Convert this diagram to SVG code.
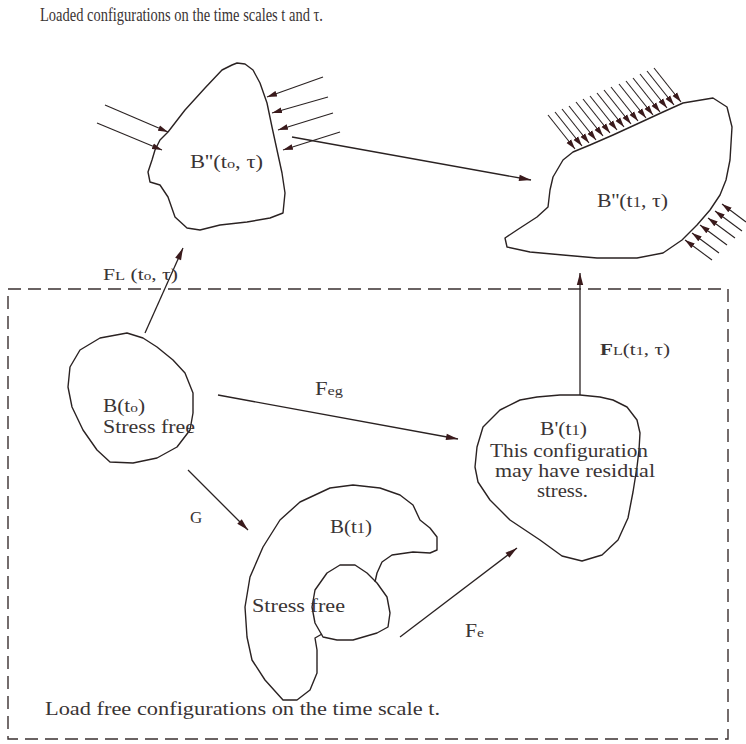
<svg xmlns="http://www.w3.org/2000/svg" width="746" height="744" viewBox="0 0 746 744">
<style>
text{fill:#3a3434;}
.body{fill:none;stroke:#2a2222;stroke-width:1.4;stroke-linejoin:round;}
.con{fill:none;stroke:#2a2222;stroke-width:1.3;marker-end:url(#ah);}
.load{fill:none;stroke:#2a2222;stroke-width:1.1;marker-end:url(#ahs);}
.frame{fill:none;stroke:#3a3030;stroke-width:1.4;stroke-dasharray:13 7;}
</style>
<defs>
<marker id="ah" viewBox="0 0 12 8" markerUnits="userSpaceOnUse" markerWidth="13" markerHeight="8" refX="12" refY="4" orient="auto">
<path d="M0,0.8 L12,4 L0,7.2 Z" fill="#3a1a1c"/>
</marker>
<marker id="ahs" viewBox="0 0 12 8" markerUnits="userSpaceOnUse" markerWidth="10" markerHeight="7" refX="12" refY="4" orient="auto">
<path d="M0,0.5 L12,4 L0,7.5 Z" fill="#3a1a1c"/>
</marker>
</defs>
<rect width="746" height="744" fill="#ffffff"/>
<g font-family="'Liberation Serif', 'DejaVu Serif', serif">

<text id="title" x="40" y="21" font-size="18" textLength="283" lengthAdjust="spacingAndGlyphs">Loaded configurations on the time scales t and τ.</text>

<g id="frame">
<rect class="frame" x="8" y="289" width="720" height="450"/>
<text x="45" y="715" font-size="19" textLength="395" lengthAdjust="spacingAndGlyphs">Load free configurations on the time scale t.</text>
</g>

<g id="node-B2-t0">
<path class="body" d="M237,63 L245,64 L253,70 L260,83 L267,103 L272,127 L277,150 L282,173 L285,193 L283,213 L270,218 L247,222 L220,225 L200,230 L187,228 L175,217 L168,197 L160,185 L150,182 L148,172 L152,160 L155,150 L160,140 L168,132 L185,110 L205,88 L222,70 L232,65 Z"/>
<g id="loads-t0">
<line class="load" x1="105" y1="105" x2="168" y2="132"/>
<line class="load" x1="97" y1="123" x2="162" y2="150"/>
<line class="load" x1="323" y1="77" x2="267" y2="97"/>
<line class="load" x1="328" y1="97" x2="272" y2="113"/>
<line class="load" x1="333" y1="113" x2="278" y2="130"/>
<line class="load" x1="340" y1="132" x2="283" y2="150"/>
</g>
<text x="190" y="168" font-size="18" textLength="73" lengthAdjust="spacingAndGlyphs">B''(t<tspan font-size="13">o</tspan>, τ)</text>
</g>

<g id="node-B2-t1">
<path class="body" d="M683,103 L713,98 L727,107 L732,127 L730,160 L726,180 L720,195 L710,210 L697,225 L682,240 L663,253 L637,258 L597,258 L563,255 L530,252 L507,247 L505,238 L517,230 L537,217 L548,207 L550,190 L553,177 L563,160 L573,152 L590,145 L613,135 L637,124 L663,112 Z"/>
<g id="loads-t1">
<line class="load" x1="548" y1="115" x2="575" y2="149"/>
<line class="load" x1="555" y1="112" x2="582" y2="146"/>
<line class="load" x1="562" y1="109" x2="589" y2="143"/>
<line class="load" x1="569" y1="106" x2="596" y2="140"/>
<line class="load" x1="576" y1="102" x2="603" y2="136"/>
<line class="load" x1="583" y1="99" x2="610" y2="133"/>
<line class="load" x1="590" y1="96" x2="617" y2="130"/>
<line class="load" x1="597" y1="93" x2="624" y2="127"/>
<line class="load" x1="604" y1="90" x2="631" y2="124"/>
<line class="load" x1="611" y1="87" x2="638" y2="121"/>
<line class="load" x1="619" y1="84" x2="646" y2="118"/>
<line class="load" x1="626" y1="81" x2="653" y2="115"/>
<line class="load" x1="633" y1="78" x2="660" y2="112"/>
<line class="load" x1="640" y1="74" x2="667" y2="108"/>
<line class="load" x1="647" y1="71" x2="674" y2="105"/>
<line class="load" x1="654" y1="68" x2="681" y2="102"/>
<line class="load" x1="712" y1="260" x2="685" y2="240"/>
<line class="load" x1="719" y1="253" x2="692" y2="233"/>
<line class="load" x1="727" y1="245" x2="700" y2="225"/>
<line class="load" x1="735" y1="238" x2="708" y2="218"/>
<line class="load" x1="742" y1="231" x2="715" y2="211"/>
<line class="load" x1="746" y1="222" x2="722" y2="204"/>
</g>
<text x="597" y="207" font-size="18" textLength="71" lengthAdjust="spacingAndGlyphs">B''(t<tspan font-size="14">1</tspan>, τ)</text>
</g>

<g id="node-B-t0">
<path class="body" d="M127,333 L100,338 L80,350 L70,367 L68,387 L72,407 L83,430 L97,450 L110,462 L133,463 L157,458 L177,447 L190,430 L193,413 L193,393 L185,373 L173,360 L157,347 L143,338 Z"/>
<text x="103" y="412" font-size="18" textLength="42" lengthAdjust="spacingAndGlyphs">B(t<tspan font-size="13">o</tspan>)</text>
<text x="103" y="433" font-size="18" textLength="92" lengthAdjust="spacingAndGlyphs">Stress free</text>
</g>

<g id="node-B-t1">
<path class="body" d="M375,582 L377,573 L382,562 L392,555 L413,552 L430,553 L437,550 L437,537 L430,528 L420,520 L413,505 L400,495 L380,488 L353,485 L330,488 L300,502 L280,520 L263,547 L250,577 L245,607 L247,637 L252,660 L265,680 L283,700 L297,700 L310,690 L317,673 L317,650 L315,638 L322,634"/>
<path class="body" d="M315,590 L327,573 L340,565 L355,565 L367,573 L377,583 L387,597 L390,613 L388,627 L377,633 L353,640 L337,640 L323,637 L315,623 L312,607 Z"/>
<text x="330" y="533" font-size="18" textLength="42" lengthAdjust="spacingAndGlyphs">B(t<tspan font-size="14">1</tspan>)</text>
<text x="252" y="612" font-size="18" textLength="93" lengthAdjust="spacingAndGlyphs">Stress free</text>
</g>

<g id="node-Bp-t1">
<path class="body" d="M537,397 L560,395 L580,395 L600,397 L613,400 L627,407 L637,420 L640,433 L639,450 L637,467 L633,492 L628,518 L618,540 L602,555 L582,561 L562,556 L540,540 L510,520 L490,500 L478,482 L475,467 L477,447 L483,427 L500,410 L520,400 Z"/>
<text x="540" y="435" font-size="18" textLength="47" lengthAdjust="spacingAndGlyphs">B'(t<tspan font-size="14">1</tspan>)</text>
<text x="490" y="457" font-size="18" textLength="158" lengthAdjust="spacingAndGlyphs">This configuration</text>
<text x="495" y="477" font-size="18" textLength="160" lengthAdjust="spacingAndGlyphs">may have residual</text>
<text x="537" y="497" font-size="18" textLength="51" lengthAdjust="spacingAndGlyphs">stress.</text>
</g>

<g id="connectors">
<line class="con" x1="292" y1="137" x2="531" y2="180"/>
<line class="con" x1="145" y1="333" x2="183" y2="248"/>
<line class="con" x1="218" y1="395" x2="458" y2="439"/>
<line class="con" x1="188" y1="470" x2="248" y2="530"/>
<line class="con" x1="400" y1="637" x2="517" y2="548"/>
<line class="con" x1="580" y1="395" x2="580" y2="273"/>
<text x="103" y="280" font-size="17" textLength="75" lengthAdjust="spacingAndGlyphs">F<tspan font-size="13">L</tspan> (t<tspan font-size="12">o</tspan>, τ)</text>
<text x="315" y="395" font-size="18" textLength="28" lengthAdjust="spacingAndGlyphs">F<tspan font-size="13">eg</tspan></text>
<text x="190" y="523" font-size="17">G</text>
<text x="465" y="637" font-size="18" textLength="19" lengthAdjust="spacingAndGlyphs">F<tspan font-size="13">e</tspan></text>
<text x="600" y="355" font-size="17" textLength="70" lengthAdjust="spacingAndGlyphs"><tspan font-weight="bold">F</tspan><tspan font-size="13">L</tspan>(t<tspan font-size="13">1</tspan>, τ)</text>
</g>
</g>
</svg>
